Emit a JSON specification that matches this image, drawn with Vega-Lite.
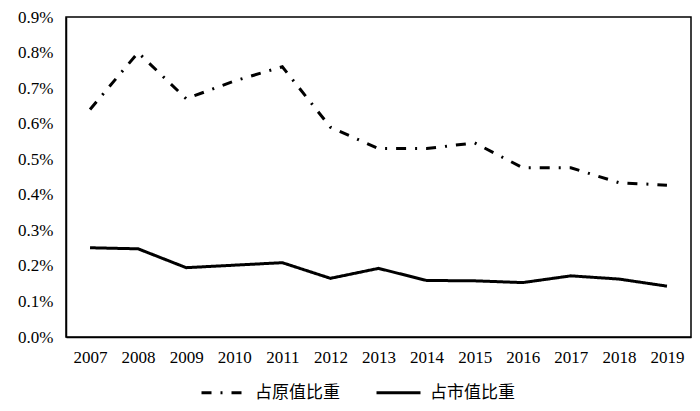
{
  "$schema": "https://vega.github.io/schema/vega-lite/v6.json",
  "width": 625,
  "height": 320,
  "autosize": {"type": "none"},
  "padding": {"left": 66, "top": 17, "right": 9, "bottom": 74},
  "background": "white",
  "config": {
    "view": {"stroke": "black", "strokeWidth": 1.5},
    "axis": {"grid": false, "ticks": false, "domainColor": "black", "domainWidth": 1.5, "labelColor": "black", "labelFont": "Liberation Serif", "labelFontSize": 17, "title": null}
  },
  "data": {
    "values": [
      {"year": "2007", "series": "占原值比重", "value": 0.0064},
      {"year": "2008", "series": "占原值比重", "value": 0.0080},
      {"year": "2009", "series": "占原值比重", "value": 0.0067},
      {"year": "2010", "series": "占原值比重", "value": 0.0072},
      {"year": "2011", "series": "占原值比重", "value": 0.0076},
      {"year": "2012", "series": "占原值比重", "value": 0.0059},
      {"year": "2013", "series": "占原值比重", "value": 0.0053},
      {"year": "2014", "series": "占原值比重", "value": 0.0053},
      {"year": "2015", "series": "占原值比重", "value": 0.00546},
      {"year": "2016", "series": "占原值比重", "value": 0.00476},
      {"year": "2017", "series": "占原值比重", "value": 0.00476},
      {"year": "2018", "series": "占原值比重", "value": 0.00434},
      {"year": "2019", "series": "占原值比重", "value": 0.00427},
      {"year": "2007", "series": "占市值比重", "value": 0.00251},
      {"year": "2008", "series": "占市值比重", "value": 0.00248},
      {"year": "2009", "series": "占市值比重", "value": 0.00195},
      {"year": "2010", "series": "占市值比重", "value": 0.00202},
      {"year": "2011", "series": "占市值比重", "value": 0.00209},
      {"year": "2012", "series": "占市值比重", "value": 0.00165},
      {"year": "2013", "series": "占市值比重", "value": 0.00193},
      {"year": "2014", "series": "占市值比重", "value": 0.00159},
      {"year": "2015", "series": "占市值比重", "value": 0.00158},
      {"year": "2016", "series": "占市值比重", "value": 0.00153},
      {"year": "2017", "series": "占市值比重", "value": 0.00172},
      {"year": "2018", "series": "占市值比重", "value": 0.00163},
      {"year": "2019", "series": "占市值比重", "value": 0.00143}
    ]
  },
  "mark": {"type": "line", "color": "black", "strokeWidth": 3, "strokeCap": "butt"},
  "encoding": {
    "x": {
      "field": "year", "type": "ordinal",
      "scale": {"paddingInner": 0, "paddingOuter": 0.5},
      "axis": {"labelAngle": 0, "labelPadding": 12, "domain": true}
    },
    "y": {
      "field": "value", "type": "quantitative",
      "scale": {"domain": [0, 0.009], "nice": false},
      "axis": {"values": [0, 0.001, 0.002, 0.003, 0.004, 0.005, 0.006, 0.007, 0.008, 0.009], "format": ".1%", "labelPadding": 13}
    },
    "strokeDash": {
      "field": "series", "type": "nominal",
      "scale": {"domain": ["占原值比重", "占市值比重"], "range": [[10, 9, 2, 9], [1, 0]]},
      "legend": {
        "title": null,
        "orient": "none",
        "direction": "horizontal",
        "legendX": 134,
        "legendY": 352,
        "symbolType": "stroke",
        "symbolStrokeColor": "black",
        "symbolStrokeWidth": 3,
        "symbolSize": 1936,
        "labelFont": "Noto Sans CJK SC",
        "labelFontSize": 17,
        "labelColor": "black",
        "labelOffset": 8,
        "columnPadding": 30
      }
    },
    "detail": {"field": "series"}
  }
}
